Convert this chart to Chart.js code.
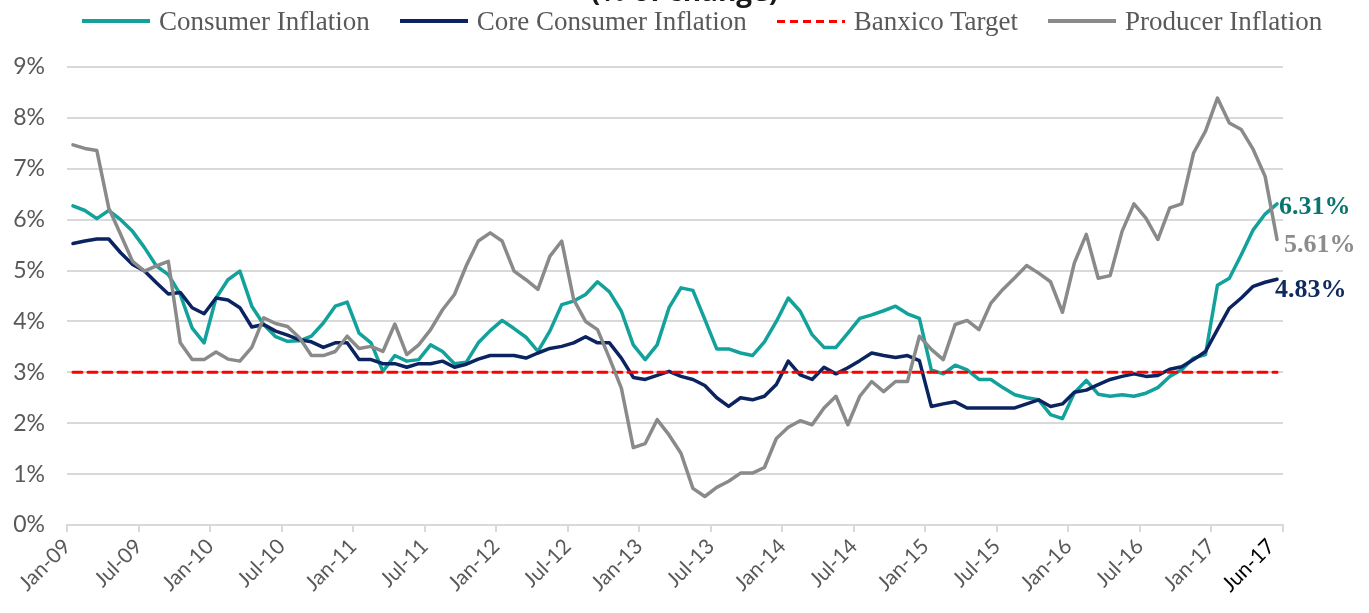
<!DOCTYPE html>
<html>
<head>
<meta charset="utf-8">
<title>Mexico inflation</title>
<script src="https://cdn.jsdelivr.net/npm/chart.js@4.4.1/dist/chart.umd.min.js"></script>
<style>
  html, body { margin: 0; padding: 0; background: #fff; overflow: hidden; }
  #wrap { position: relative; width: 1369px; height: 613px; overflow: hidden; }
  #chart { position: absolute; left: 0; top: 0; }
  #title {
    position: absolute; left: 0; top: -24px; width: 1369px; text-align: center;
    font: bold 28px "Open Sans", sans-serif; color: #1a1a1a; line-height: 28px;
  }
  #legend {
    position: absolute; left: 82px; top: 7px; display: flex; align-items: center;
    font: 27px "Liberation Serif", serif; color: #595959; line-height: 28px; white-space: nowrap;
  }
  .lg-item { display: flex; align-items: center; margin-right: 30px; }
  .lg-swatch { width: 68px; height: 4px; margin-right: 9px; }
</style>
</head>
<body>
<div id="wrap">
  <canvas id="chart" width="1369" height="613"></canvas>
  <div id="title">(% of change)</div>
  <div id="legend"></div>
</div>
<script>
'use strict';

// monthly, Jan-09 .. Jun-17
const consumerInflation = [
  6.27, 6.18, 6.02, 6.18, 6.00, 5.77, 5.45, 5.09, 4.92, 4.53, 3.87, 3.58,
  4.46, 4.82, 4.99, 4.30, 3.94, 3.70, 3.61, 3.62, 3.71, 3.97, 4.30, 4.38,
  3.77, 3.58, 3.02, 3.33, 3.22, 3.25, 3.54, 3.41, 3.17, 3.20, 3.58, 3.82,
  4.02, 3.86, 3.69, 3.41, 3.81, 4.33, 4.40, 4.53, 4.78, 4.58, 4.20, 3.54,
  3.25, 3.54, 4.27, 4.66, 4.61, 4.04, 3.46, 3.46, 3.38, 3.33, 3.60, 4.00,
  4.46, 4.20, 3.74, 3.49, 3.49, 3.77, 4.06, 4.13, 4.21, 4.30, 4.15, 4.06,
  3.05, 2.97, 3.14, 3.05, 2.86, 2.86, 2.70, 2.56, 2.50, 2.46, 2.17, 2.09,
  2.60, 2.84, 2.57, 2.53, 2.56, 2.53, 2.59, 2.70, 2.92, 3.05, 3.28, 3.35,
  4.71, 4.85, 5.31, 5.80, 6.11, 6.31
];
const coreInflation = [
  5.53, 5.58, 5.62, 5.62, 5.35, 5.12, 4.99, 4.76, 4.54, 4.57, 4.27, 4.15,
  4.46, 4.42, 4.27, 3.89, 3.94, 3.81, 3.73, 3.64, 3.60, 3.49, 3.58, 3.58,
  3.25, 3.25, 3.17, 3.17, 3.10, 3.17, 3.17, 3.22, 3.10, 3.16, 3.26, 3.33,
  3.33, 3.33, 3.28, 3.38, 3.47, 3.51, 3.58, 3.70, 3.58, 3.58, 3.28, 2.90,
  2.86, 2.94, 3.02, 2.92, 2.86, 2.74, 2.50, 2.33, 2.50, 2.46, 2.53, 2.76,
  3.22, 2.95, 2.86, 3.10, 2.97, 3.09, 3.23, 3.38, 3.33, 3.29, 3.33, 3.23,
  2.33, 2.38, 2.42, 2.30, 2.30, 2.30, 2.30, 2.30, 2.38, 2.46, 2.33, 2.38,
  2.61, 2.65, 2.76, 2.86, 2.92, 2.97, 2.92, 2.94, 3.06, 3.11, 3.25, 3.41,
  3.84, 4.26, 4.46, 4.69, 4.77, 4.83
];
const producerInflation = [
  7.47, 7.40, 7.36, 6.23, 5.71, 5.18, 4.99, 5.09, 5.18, 3.58, 3.25, 3.25,
  3.40, 3.26, 3.22, 3.49, 4.07, 3.96, 3.90, 3.68, 3.33, 3.33, 3.41, 3.71,
  3.47, 3.51, 3.41, 3.95, 3.35, 3.54, 3.84, 4.23, 4.53, 5.10, 5.58, 5.74,
  5.58, 4.99, 4.82, 4.63, 5.28, 5.58, 4.43, 4.00, 3.84, 3.28, 2.69, 1.52,
  1.60, 2.07, 1.77, 1.41, 0.72, 0.56, 0.74, 0.86, 1.02, 1.02, 1.13, 1.70,
  1.92, 2.05, 1.97, 2.30, 2.53, 1.97, 2.53, 2.82, 2.62, 2.82, 2.82, 3.71,
  3.45, 3.25, 3.94, 4.02, 3.84, 4.36, 4.63, 4.86, 5.10, 4.95, 4.78, 4.18,
  5.15, 5.71, 4.85, 4.90, 5.77, 6.31, 6.03, 5.61, 6.23, 6.31, 7.31, 7.74,
  8.39, 7.90, 7.77, 7.38, 6.85, 5.61
];
const banxicoTarget = 3;

const monthNames = ['Jan','Feb','Mar','Apr','May','Jun','Jul','Aug','Sep','Oct','Nov','Dec'];
const months = [];
for (let y = 9; y <= 17; y++) {
  for (let m = 0; m < 12; m++) {
    if (y === 17 && m > 5) break;
    months.push(monthNames[m] + '-' + String(y).padStart(2, '0'));
  }
}
const lastIdx = months.length - 1;
const yTicks = [0, 1, 2, 3, 4, 5, 6, 7, 8, 9];

const COLORS = {
  consumer: '#12A19B', core: '#0B2461', target: '#FF0000', producer: '#8A8A8A',
  grid: '#D9D9D9', tick: '#595959'
};

// end-of-line value labels
const endLabels = {
  id: 'endLabels',
  afterDatasetsDraw(chart) {
    const ctx = chart.ctx;
    chart.data.datasets.forEach((ds, i) => {
      if (!ds.endLabel) return;
      const meta = chart.getDatasetMeta(i);
      const pt = meta.data[meta.data.length - 1];
      if (!pt) return;
      const val = ds.data[ds.data.length - 1];
      ctx.save();
      ctx.font = 'bold 26px "Liberation Serif", serif';
      ctx.fillStyle = ds.endLabel.color;
      ctx.textAlign = 'left';
      ctx.textBaseline = 'middle';
      ctx.fillText(val.toFixed(2) + '%', pt.x + ds.endLabel.dx, pt.y + ds.endLabel.dy);
      ctx.restore();
    });
  }
};

const datasets = [
  { label: 'Consumer Inflation', data: consumerInflation, borderColor: COLORS.consumer,
    borderWidth: 3.5, order: 3, endLabel: { color: '#0A746F', dx: 2, dy: 3 } },
  { label: 'Core Consumer Inflation', data: coreInflation, borderColor: COLORS.core,
    borderWidth: 3.5, order: 2, endLabel: { color: '#0E2A5E', dx: -2, dy: 11 } },
  { label: 'Banxico Target',
    data: [{ x: months[0], y: banxicoTarget }, { x: months[lastIdx], y: banxicoTarget }],
    borderColor: COLORS.target, borderWidth: 3, borderDash: [9, 6], order: 1 },
  { label: 'Producer Inflation', data: producerInflation, borderColor: COLORS.producer,
    borderWidth: 3.5, order: 0, endLabel: { color: '#8C8C8C', dx: 7, dy: 6 } }
];

new Chart(document.getElementById('chart'), {
  type: 'line',
  data: { labels: months, datasets },
  plugins: [endLabels],
  options: {
    responsive: false, animation: false, devicePixelRatio: 1,
    elements: { point: { radius: 0 }, line: { tension: 0, borderCapStyle: 'round', borderJoinStyle: 'round' } },
    layout: { padding: { top: 67, right: 86, bottom: 0, left: 0 } },
    plugins: { legend: { display: false }, tooltip: { enabled: false }, title: { display: false } },
    scales: {
      x: {
        type: 'category', offset: true,
        afterFit: s => { s.height = 88; },
        grid: {
          offset: true, drawOnChartArea: false, drawTicks: true, tickLength: 7, lineWidth: 2,
          color: c => (c.tick === undefined || c.index % 6 === 0) ? COLORS.grid : 'rgba(0,0,0,0)'
        },
        border: { display: true, color: COLORS.grid, width: 2 },
        ticks: {
          autoSkip: false, maxRotation: 45, minRotation: 45, padding: 2, labelOffset: -6,
          font: { family: 'Lato', size: 21 },
          color: c => c.index === lastIdx ? '#000' : COLORS.tick,
          callback: (v, i) => (i % 6 === 0 || i === lastIdx) ? months[i] : ''
        }
      },
      y: {
        min: yTicks[0], max: yTicks[yTicks.length - 1],
        afterFit: s => { s.width = 67; },
        afterBuildTicks: s => { s.ticks = yTicks.map(v => ({ value: v })); },
        grid: { color: COLORS.grid, lineWidth: 2, drawTicks: false },
        border: { display: false },
        ticks: {
          padding: 22, color: COLORS.tick, font: { family: 'Lato', size: 23 },
          callback: v => v + '%'
        }
      }
    }
  }
});

// legend as html
document.getElementById('legend').innerHTML = datasets.map(d => {
  const bg = d.borderDash
    ? `repeating-linear-gradient(90deg, ${d.borderColor} 0 8px, transparent 8px 13px)`
    : d.borderColor;
  const h = d.borderDash ? 3 : 4;
  return `<div class="lg-item"><div class="lg-swatch" style="background:${bg};height:${h}px"></div><span>${d.label}</span></div>`;
}).join('');
</script>
</body>
</html>
